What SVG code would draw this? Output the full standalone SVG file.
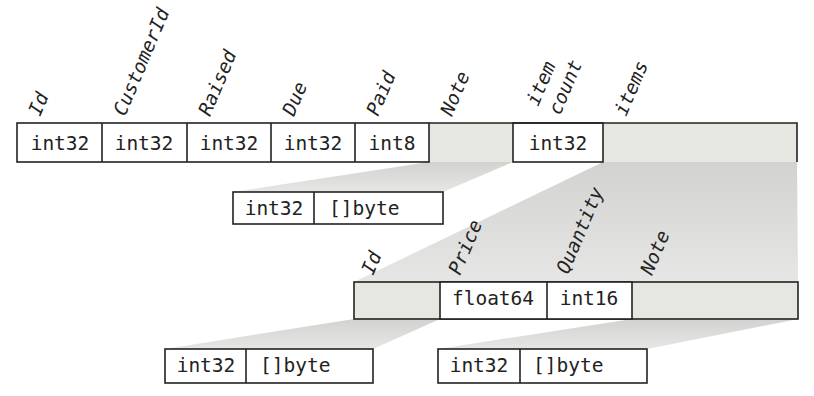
<svg xmlns="http://www.w3.org/2000/svg" width="814" height="396" viewBox="0 0 814 396">
<defs>
<linearGradient id="proj" x1="0" y1="0" x2="0" y2="1">
<stop offset="0" stop-color="#d2d2d0"/>
<stop offset="1" stop-color="#e6e6e4"/>
</linearGradient>
<style>
.cell{fill:#fff;stroke:#222;stroke-width:1.6}
.shade{fill:#e7e7e2;stroke:none}
.ln{stroke:#222;stroke-width:1.6;fill:none}
.proj{fill:url(#proj);stroke:none}
.t{font-family:"DejaVu Sans Mono","Liberation Mono",monospace;font-size:19.5px;fill:#222}
.m{text-anchor:middle}
.lb{font-family:"DejaVu Sans Mono","Liberation Mono",monospace;font-size:19px;font-style:italic;fill:#222}
</style>
</defs>
<rect width="814" height="396" fill="#fff"/>
<g id="connectors">
<polygon class="proj" points="429,162 513,162 443,192 233,192"/>
<polygon class="proj" points="603,162 797,162 798,282 354,282"/>
<polygon class="proj" points="354,319 440,319 373,349 165,349"/>
<polygon class="proj" points="632,319 798,319 647,349 438,349"/>
</g>
<g id="invoice">
<rect class="shade" x="429" y="123" width="84" height="39"/>
<rect class="shade" x="603" y="123" width="194" height="39"/>
<rect class="cell" x="17" y="123" width="412" height="39"/>
<rect class="cell" x="513" y="123" width="90" height="39"/>
<path class="ln" d="M429,123 H797 V162 M102,123 V162 M187,123 V162 M271,123 V162 M355,123 V162"/>
<text class="t m" x="60" y="150">int32</text>
<text class="t m" x="144" y="150">int32</text>
<text class="t m" x="229" y="150">int32</text>
<text class="t m" x="313" y="150">int32</text>
<text class="t m" x="392" y="150">int8</text>
<text class="t m" x="558" y="150">int32</text>
<text class="lb" transform="translate(40,117) rotate(-67)">Id</text>
<text class="lb" transform="translate(125,117) rotate(-67)">CustomerId</text>
<text class="lb" transform="translate(210,117) rotate(-67)">Raised</text>
<text class="lb" transform="translate(294,117) rotate(-67)">Due</text>
<text class="lb" transform="translate(378,117) rotate(-67)">Paid</text>
<text class="lb" transform="translate(452,117) rotate(-67)">Note</text>
<text class="lb" transform="translate(538,107) rotate(-67)">item</text>
<text class="lb" transform="translate(560,116) rotate(-67)">count</text>
<text class="lb" transform="translate(626,117) rotate(-67)">items</text>
</g>
<g id="note-bytes">
<rect class="cell" x="233" y="192" width="210" height="32"/>
<path class="ln" d="M314,192 V224"/>
<text class="t m" x="274" y="215">int32</text>
<text class="t" x="329" y="215">[]byte</text>
</g>
<g id="item">
<rect class="shade" x="354" y="282" width="86" height="37"/>
<rect class="shade" x="632" y="282" width="166" height="37"/>
<rect class="ln" x="354" y="282" width="444" height="37"/>
<rect class="cell" x="440" y="282" width="192" height="37"/>
<path class="ln" d="M547,282 V319"/>
<text class="t m" x="493" y="305">float64</text>
<text class="t m" x="589" y="305">int16</text>
<text class="lb" transform="translate(373,276) rotate(-67)">Id</text>
<text class="lb" transform="translate(460,276) rotate(-67)">Price</text>
<text class="lb" transform="translate(568,275) rotate(-67)">Quantity</text>
<text class="lb" transform="translate(652,276) rotate(-67)">Note</text>
</g>
<g id="id-bytes">
<rect class="cell" x="165" y="349" width="208" height="34"/>
<path class="ln" d="M246,349 V383"/>
<text class="t m" x="206" y="372">int32</text>
<text class="t" x="260" y="372">[]byte</text>
</g>
<g id="itemnote-bytes">
<rect class="cell" x="438" y="349" width="209" height="34"/>
<path class="ln" d="M520,349 V383"/>
<text class="t m" x="479" y="372">int32</text>
<text class="t" x="533" y="372">[]byte</text>
</g>
</svg>
